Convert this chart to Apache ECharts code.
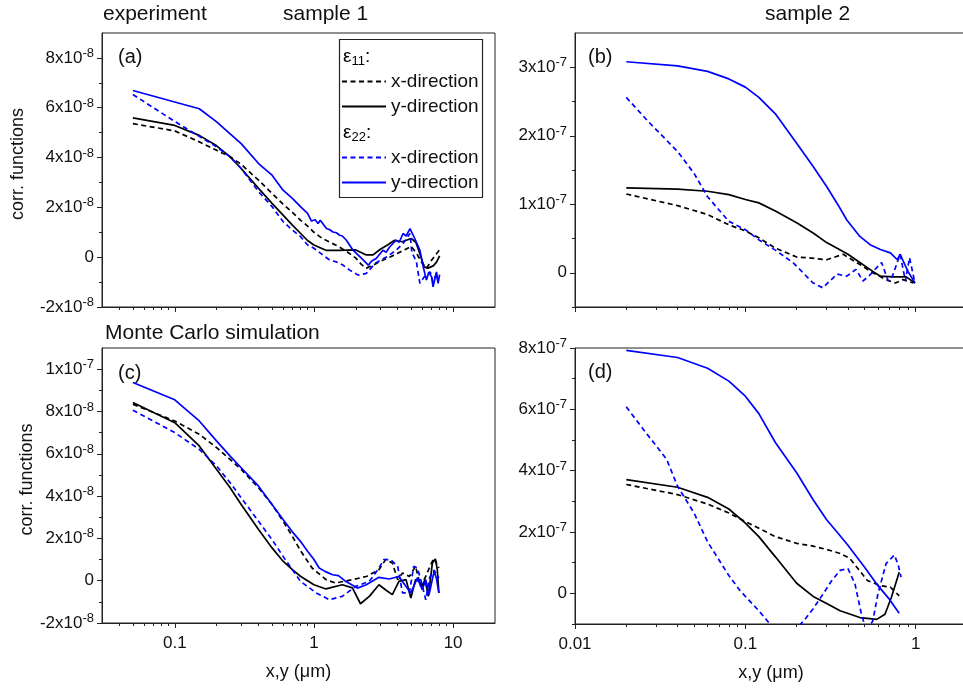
<!DOCTYPE html>
<html>
<head>
<meta charset="utf-8">
<script src="https://cdn.jsdelivr.net/npm/echarts@6/dist/echarts.min.js"></script>
<style>
html, body { margin: 0; padding: 0; background: #fff; }
#chart { width: 963px; height: 688px; }
</style>
</head>
<body>
<div id="chart"></div>
<script>
// values; panels a, c in units of 1e-8, panels b, d in units of 1e-7
const UNIT_A = 1e-8, UNIT_B = 1e-7, UNIT_C = 1e-8, UNIT_D = 1e-7;

// (a) experiment, sample 1
const a_e11x = [[0.05,5.36],[0.1,5.07],[0.15,4.63],[0.2,4.29],[0.25,4.03],[0.3,3.73],[0.4,3.09],[0.5,2.56],[0.6,2.13],[0.7,1.8],[0.8,1.49],[0.9,1.25],[1,1.0],[1.15,0.75],[1.3,0.6],[1.5,0.43],[1.75,0.2],[2,-0.04],[2.2,-0.3],[2.38,-0.44],[2.7,-0.3],[3,-0.17],[3.5,0.0],[4,0.16],[4.5,0.3],[5,0.43],[5.45,0.16],[6,-0.24],[6.45,-0.44],[7,-0.12],[7.5,0.1],[8,0.3]];
const a_e11y = [[0.05,5.59],[0.1,5.29],[0.15,4.89],[0.2,4.47],[0.25,4.03],[0.3,3.56],[0.4,2.76],[0.5,2.16],[0.6,1.69],[0.7,1.29],[0.8,0.96],[0.9,0.67],[1,0.49],[1.23,0.27],[1.5,0.27],[2,0.29],[2.38,0.09],[2.66,0.09],[3,0.32],[3.4,0.5],[3.8,0.68],[4.3,0.62],[5,0.75],[5.4,0.6],[5.75,0.16],[6.2,-0.39],[6.6,-0.44],[7.2,-0.35],[7.6,-0.2],[8,0.05]];
const a_e22x = [[0.05,6.53],[0.1,5.45],[0.15,4.85],[0.2,4.43],[0.25,4.03],[0.3,3.56],[0.4,2.63],[0.5,2.03],[0.6,1.43],[0.7,1.09],[0.8,0.83],[0.9,0.49],[1,0.36],[1.15,0.1],[1.3,-0.12],[1.45,-0.19],[1.6,-0.3],[1.81,-0.52],[2.08,-0.72],[2.38,-0.65],[2.75,-0.25],[3.32,0.01],[3.9,0.28],[4.37,0.55],[4.9,0.95],[5.05,0.2],[5.45,-0.19],[5.77,-1.05],[6.2,-0.79],[6.85,-0.59],[7.18,-0.99],[7.6,-0.66],[7.8,-0.99]];
const a_e22y = [[0.05,6.69],[0.15,5.96],[0.2,5.43],[0.25,4.95],[0.3,4.56],[0.4,3.76],[0.5,3.29],[0.6,2.69],[0.7,2.36],[0.8,2.03],[0.9,1.76],[0.96,1.45],[1.02,1.5],[1.07,1.35],[1.11,1.48],[1.23,1.15],[1.3,1.1],[1.37,1.01],[1.45,0.98],[1.53,0.88],[1.6,0.85],[1.71,0.68],[1.91,0.28],[2.2,-0.05],[2.46,-0.32],[2.6,-0.15],[2.8,-0.05],[3.13,0.28],[3.3,0.2],[3.5,0.41],[3.9,0.68],[4.1,0.6],[4.37,0.95],[4.6,0.85],[4.9,1.15],[5.3,0.75],[5.77,0.28],[6.1,-0.39],[6.43,-0.92],[6.7,-0.6],[7,-0.79],[7.18,-1.19],[7.6,-0.59],[7.8,-1.05],[8,-0.7]];

// (b) experiment, sample 2
const b_e11x = [[0.02,1.15],[0.04,0.98],[0.06,0.85],[0.08,0.70],[0.1,0.61],[0.12,0.51],[0.15,0.36],[0.2,0.23],[0.229,0.22],[0.3,0.19],[0.375,0.27],[0.47,0.12],[0.56,0.0],[0.67,-0.1],[0.76,-0.15],[0.84,-0.1],[0.97,-0.15]];
const b_e11y = [[0.02,1.24],[0.04,1.22],[0.06,1.19],[0.08,1.14],[0.1,1.07],[0.12,1.02],[0.15,0.90],[0.2,0.73],[0.25,0.58],[0.3,0.44],[0.35,0.35],[0.4,0.27],[0.47,0.15],[0.56,0.02],[0.62,-0.05],[0.74,-0.06],[0.88,-0.06],[0.99,-0.15]];
const b_e22x = [[0.02,2.56],[0.0264,2.23],[0.04,1.77],[0.05,1.45],[0.06,1.11],[0.08,0.75],[0.1,0.63],[0.12,0.48],[0.15,0.33],[0.19,0.15],[0.25,-0.15],[0.285,-0.22],[0.345,-0.02],[0.394,-0.05],[0.446,0.05],[0.49,-0.12],[0.53,-0.05],[0.63,0.15],[0.69,-0.12],[0.73,-0.05],[0.81,0.27],[0.87,-0.12],[0.92,0.22],[0.99,-0.15]];
const b_e22y = [[0.02,3.08],[0.04,3.02],[0.06,2.94],[0.08,2.83],[0.1,2.71],[0.12,2.56],[0.15,2.32],[0.2,1.89],[0.25,1.55],[0.3,1.26],[0.35,0.99],[0.394,0.77],[0.47,0.53],[0.54,0.41],[0.62,0.34],[0.71,0.29],[0.78,0.19],[0.81,0.27],[0.87,0.10],[0.9,0.02],[0.99,-0.15]];

// (c) Monte Carlo, sample 1
const c_e11x = [[0.05,8.34],[0.1,7.55],[0.15,6.92],[0.2,6.29],[0.25,5.73],[0.3,5.26],[0.4,4.39],[0.5,3.60],[0.6,2.81],[0.7,2.10],[0.8,1.42],[0.97,0.6],[1.22,0.05],[1.43,-0.11],[1.89,0.05],[2.38,0.2],[2.93,0.52],[3.28,1.0],[3.66,0.84],[4.0,0.05],[4.33,0.36],[4.85,0.2],[5.37,0.68],[5.84,-0.27],[6.36,0.2],[6.9,0.76],[7.3,1.07],[7.9,0.6]];
const c_e11y = [[0.05,8.42],[0.1,7.47],[0.15,6.37],[0.2,5.26],[0.25,4.39],[0.3,3.60],[0.4,2.42],[0.5,1.55],[0.6,0.92],[0.7,0.52],[0.8,0.21],[1,-0.19],[1.22,-0.39],[1.6,-0.19],[1.89,-0.34],[2.16,-1.09],[2.5,-0.74],[2.93,-0.19],[3.3,-0.45],[3.66,-0.66],[4.08,-0.03],[4.59,0.05],[4.97,-0.82],[5.37,0.05],[5.68,-0.03],[6.0,-0.27],[6.28,0.05],[6.64,-0.74],[7.1,0.84],[7.46,1.03],[7.7,0.52],[7.9,-0.58]];
const c_e22x = [[0.05,8.06],[0.1,7.0],[0.15,6.21],[0.2,5.42],[0.25,4.63],[0.3,3.92],[0.4,2.81],[0.5,1.94],[0.6,1.15],[0.7,0.52],[0.8,-0.03],[1.04,-0.58],[1.29,-0.9],[1.6,-0.74],[1.99,-0.27],[2.5,-0.03],[2.88,0.52],[3.18,1.0],[3.55,1.0],[4.0,0.68],[4.33,-0.58],[4.85,-0.58],[5.21,0.68],[5.54,0.6],[5.9,-0.03],[6.36,-0.9],[6.8,0.16],[7.3,0.5],[7.9,0.13]];
const c_e22y = [[0.05,9.37],[0.1,8.55],[0.15,7.55],[0.2,6.60],[0.25,5.89],[0.3,5.34],[0.4,4.47],[0.5,3.60],[0.6,2.89],[0.7,2.31],[0.8,1.86],[0.9,1.39],[1,1.0],[1.09,0.6],[1.2,0.44],[1.36,0.28],[1.5,0.24],[1.69,-0.03],[2.05,-0.35],[2.38,-0.19],[2.93,0.16],[3.47,0.08],[4.08,0.2],[4.59,-0.27],[4.97,-0.58],[5.54,0.13],[6.0,-0.43],[6.36,0.05],[6.72,-0.66],[7.3,0.44],[7.6,0.1],[7.9,-0.58]];

// (d) Monte Carlo, sample 2
const d_e11x = [[0.02,3.55],[0.04,3.22],[0.06,2.91],[0.08,2.62],[0.1,2.34],[0.12,2.12],[0.15,1.85],[0.2,1.63],[0.25,1.54],[0.3,1.43],[0.36,1.3],[0.41,1.14],[0.45,0.86],[0.52,0.42],[0.62,0.25],[0.71,0.2],[0.8,-0.08]];
const d_e11y = [[0.02,3.71],[0.04,3.46],[0.06,3.13],[0.08,2.75],[0.1,2.29],[0.12,1.85],[0.15,1.19],[0.2,0.33],[0.25,-0.1],[0.3,-0.33],[0.36,-0.57],[0.47,-0.79],[0.59,-0.85],[0.66,-0.68],[0.72,-0.13],[0.8,0.69]];
const d_e22x = [[0.02,6.08],[0.0264,5.20],[0.0345,4.37],[0.04,3.49],[0.05,2.62],[0.06,1.68],[0.08,0.58],[0.093,0.09],[0.12,-0.57],[0.14,-1.01],[0.16,-1.3],[0.19,-1.25],[0.22,-0.9],[0.25,-0.5],[0.286,-0.02],[0.32,0.4],[0.36,0.75],[0.4,0.81],[0.44,0.31],[0.48,-0.68],[0.5,-1.0],[0.53,-1.1],[0.56,-0.9],[0.6,-0.02],[0.67,0.97],[0.75,1.25],[0.79,0.92],[0.82,0.53]];
const d_e22y = [[0.02,7.92],[0.04,7.69],[0.06,7.34],[0.08,6.92],[0.1,6.43],[0.12,5.86],[0.15,4.92],[0.2,3.93],[0.25,3.05],[0.3,2.40],[0.35,1.96],[0.4,1.57],[0.45,1.19],[0.5,0.86],[0.6,0.25],[0.7,-0.19],[0.8,-0.65]];

// tick labels
const xTicksS1 = [0.1, 1, 10];
const xMinorS1 = [0.04,0.05,0.06,0.07,0.08,0.09,0.2,0.3,0.4,0.5,0.6,0.7,0.8,0.9,2,3,4,5,6,7,8,9];
const xTicksS2 = [0.01, 0.1, 1];
const xMinorS2 = [0.02,0.03,0.04,0.05,0.06,0.07,0.08,0.09,0.2,0.3,0.4,0.5,0.6,0.7,0.8,0.9];
const yTicksA = [-2e-8, 0, 2e-8, 4e-8, 6e-8, 8e-8];
const yMinorA = [-1e-8, 1e-8, 3e-8, 5e-8, 7e-8];
const yTicksB = [0, 1e-7, 2e-7, 3e-7];
const yMinorB = [-0.5e-7, 0.5e-7, 1.5e-7, 2.5e-7];
const yTicksC = [-2e-8, 0, 2e-8, 4e-8, 6e-8, 8e-8, 1e-7];
const yMinorC = [-1e-8, 1e-8, 3e-8, 5e-8, 7e-8, 9e-8];
const yTicksD = [0, 2e-7, 4e-7, 6e-7, 8e-7];
const yMinorD = [-1e-7, 1e-7, 3e-7, 5e-7, 7e-7];

const font = 'Liberation Sans';
const ink = '#111';
const axisColor = '#222';
const blue = '#0000ff';
const black = '#000000';

const chart = echarts.init(document.getElementById('chart'));

function sci(v) {
  if (Math.abs(v) < 1e-15) return '{b|0}';
  const e = Math.floor(Math.log10(Math.abs(v)) + 1e-9);
  const m = Math.round(v / Math.pow(10, e));
  return '{b|' + m + 'x10}{s|' + e + '}';
}

const labelRich = {
  b: { fontSize: 17, fontFamily: font, color: ink, lineHeight: 22 },
  s: { fontSize: 13, fontFamily: font, color: ink, lineHeight: 13, verticalAlign: 'top' }
};

function mainX(idx, min, max, ticks, withLabels) {
  return {
    type: 'log', gridIndex: idx, min: min, max: max, position: 'bottom',
    axisLine: { show: true, onZero: false, lineStyle: { color: axisColor, width: 1 } },
    axisTick: { show: true, length: 5, customValues: ticks, lineStyle: { color: axisColor } },
    axisLabel: {
      show: withLabels, customValues: ticks, margin: 12, fontSize: 17, fontFamily: font, color: ink,
      formatter: v => String(+(+v).toPrecision(6))
    },
    splitLine: { show: false },
    name: withLabels ? 'x,y (μm)' : '', nameLocation: 'middle', nameGap: 40,
    nameTextStyle: { fontSize: 18, fontFamily: font, color: ink }
  };
}

function minorX(idx, min, max, vals) {
  return {
    type: 'log', gridIndex: idx, min: min, max: max, position: 'bottom',
    axisLine: { show: false, onZero: false },
    axisTick: { show: true, length: 3, customValues: vals, lineStyle: { color: axisColor } },
    axisLabel: { show: false },
    splitLine: { show: false }
  };
}

function mainY(idx, min, max, ticks, name, gap) {
  return {
    type: 'value', gridIndex: idx, min: min, max: max, position: 'left',
    axisLine: { show: true, onZero: false, lineStyle: { color: axisColor, width: 1 } },
    axisTick: { show: true, length: 5, customValues: ticks, lineStyle: { color: axisColor } },
    axisLabel: { customValues: ticks, margin: 8, formatter: sci, rich: labelRich },
    splitLine: { show: false },
    name: name, nameLocation: 'middle', nameGap: gap,
    nameTextStyle: { fontSize: 18, fontFamily: font, color: ink, padding: [0, 0, 0, 12] }
  };
}

function minorY(idx, min, max, vals) {
  return {
    type: 'value', gridIndex: idx, min: min, max: max, position: 'left',
    axisLine: { show: false, onZero: false },
    axisTick: { show: true, length: 3, customValues: vals, lineStyle: { color: axisColor } },
    axisLabel: { show: false },
    splitLine: { show: false }
  };
}

function line(name, grid, pts, unit, color, dashed) {
  return {
    name: name, type: 'line', xAxisIndex: grid, yAxisIndex: grid,
    data: pts.map(p => [p[0], p[1] * unit]),
    symbol: 'none', smooth: false, clip: true,
    itemStyle: { color: color, opacity: 0 },
    lineStyle: { color: color, width: 1.7, type: dashed ? [5, 3.5] : 'solid' },
    emphasis: { disabled: true }
  };
}

function gridBox(left, top, width, height) {
  return {
    left: left, top: top, width: width, height: height,
    show: true, borderWidth: 1, borderColor: axisColor, backgroundColor: 'transparent',
    containLabel: false, outerBoundsMode: 'none'
  };
}

const legendCommon = {
  orient: 'vertical', left: 341, itemWidth: 44, itemHeight: 14, itemGap: 6, padding: 0,
  selectedMode: false,
  itemStyle: { opacity: 0 },
  formatter: n => (n.slice(-1) === 'x' ? 'x-direction' : 'y-direction'),
  textStyle: { fontSize: 19, fontFamily: font, color: ink, lineHeight: 19 }
};

const option = {
  animation: false,
  backgroundColor: '#fff',
  textStyle: { fontFamily: font },
  grid: [
    gridBox(102, 33, 393, 274),
    gridBox(575, 33, 392, 274),
    gridBox(102, 348, 393, 275),
    gridBox(575, 348, 392, 276)
  ],
  xAxis: [
    mainX(0, 0.03, 20, xTicksS1, false),
    mainX(1, 0.01, 2, xTicksS2, false),
    mainX(2, 0.03, 20, xTicksS1, true),
    mainX(3, 0.01, 2, xTicksS2, true),
    minorX(0, 0.03, 20, xMinorS1),
    minorX(1, 0.01, 2, xMinorS2),
    minorX(2, 0.03, 20, xMinorS1),
    minorX(3, 0.01, 2, xMinorS2)
  ],
  yAxis: [
    mainY(0, -2e-8, 9e-8, yTicksA, 'corr. functions', 75),
    mainY(1, -0.5e-7, 3.5e-7, yTicksB, '', 0),
    mainY(2, -2e-8, 1.1e-7, yTicksC, 'corr. functions', 66),
    mainY(3, -1e-7, 8e-7, yTicksD, '', 0),
    minorY(0, -2e-8, 9e-8, yMinorA),
    minorY(1, -0.5e-7, 3.5e-7, yMinorB),
    minorY(2, -2e-8, 1.1e-7, yMinorC),
    minorY(3, -1e-7, 8e-7, yMinorD)
  ],
  legend: [
    Object.assign({}, legendCommon, { top: 72, data: ['e11x', 'e11y'] }),
    Object.assign({}, legendCommon, { top: 148, data: ['e22x', 'e22y'] })
  ],
  series: [
    line('e11x', 0, a_e11x, UNIT_A, black, true),
    line('e11y', 0, a_e11y, UNIT_A, black, false),
    line('e22x', 0, a_e22x, UNIT_A, blue, true),
    line('e22y', 0, a_e22y, UNIT_A, blue, false),
    line('e11x', 1, b_e11x, UNIT_B, black, true),
    line('e11y', 1, b_e11y, UNIT_B, black, false),
    line('e22x', 1, b_e22x, UNIT_B, blue, true),
    line('e22y', 1, b_e22y, UNIT_B, blue, false),
    line('e11x', 2, c_e11x, UNIT_C, black, true),
    line('e11y', 2, c_e11y, UNIT_C, black, false),
    line('e22x', 2, c_e22x, UNIT_C, blue, true),
    line('e22y', 2, c_e22y, UNIT_C, blue, false),
    line('e11x', 3, d_e11x, UNIT_D, black, true),
    line('e11y', 3, d_e11y, UNIT_D, black, false),
    line('e22x', 3, d_e22x, UNIT_D, blue, true),
    line('e22y', 3, d_e22y, UNIT_D, blue, false)
  ],
  graphic: [
    { type: 'text', x: 103, y: 14, style: { text: 'experiment', fontSize: 21, fontFamily: font, fill: ink, verticalAlign: 'middle', textVerticalAlign: 'middle' } },
    { type: 'text', x: 283, y: 14, style: { text: 'sample 1', fontSize: 21, fontFamily: font, fill: ink, verticalAlign: 'middle', textVerticalAlign: 'middle' } },
    { type: 'text', x: 765, y: 14, style: { text: 'sample 2', fontSize: 21, fontFamily: font, fill: ink, verticalAlign: 'middle', textVerticalAlign: 'middle' } },
    { type: 'text', x: 105, y: 333, style: { text: 'Monte Carlo simulation', fontSize: 21, fontFamily: font, fill: ink, verticalAlign: 'middle', textVerticalAlign: 'middle' } },
    { type: 'text', x: 118, y: 57, style: { text: '(a)', fontSize: 20, fontFamily: font, fill: ink, verticalAlign: 'middle', textVerticalAlign: 'middle' } },
    { type: 'text', x: 588, y: 57, style: { text: '(b)', fontSize: 20, fontFamily: font, fill: ink, verticalAlign: 'middle', textVerticalAlign: 'middle' } },
    { type: 'text', x: 118, y: 373, style: { text: '(c)', fontSize: 20, fontFamily: font, fill: ink, verticalAlign: 'middle', textVerticalAlign: 'middle' } },
    { type: 'text', x: 588, y: 372, style: { text: '(d)', fontSize: 20, fontFamily: font, fill: ink, verticalAlign: 'middle', textVerticalAlign: 'middle' } },
    { type: 'rect', shape: { x: 339.5, y: 39.5, width: 143, height: 158 }, style: { fill: 'none', stroke: axisColor, lineWidth: 1.2 }, z: 10 },
    { type: 'text', x: 343, y: 57, z: 10, style: { text: '{e|ε}{u|11}{e|:}', verticalAlign: 'middle', textVerticalAlign: 'middle',
      rich: { e: { fontSize: 19, fontFamily: font, color: ink, lineHeight: 22 }, u: { fontSize: 13, fontFamily: font, color: ink, lineHeight: 13, verticalAlign: 'bottom' } } } },
    { type: 'text', x: 343, y: 133, z: 10, style: { text: '{e|ε}{u|22}{e|:}', verticalAlign: 'middle', textVerticalAlign: 'middle',
      rich: { e: { fontSize: 19, fontFamily: font, color: ink, lineHeight: 22 }, u: { fontSize: 13, fontFamily: font, color: ink, lineHeight: 13, verticalAlign: 'bottom' } } } }
  ]
};

chart.setOption(option);
</script>
</body>
</html>
